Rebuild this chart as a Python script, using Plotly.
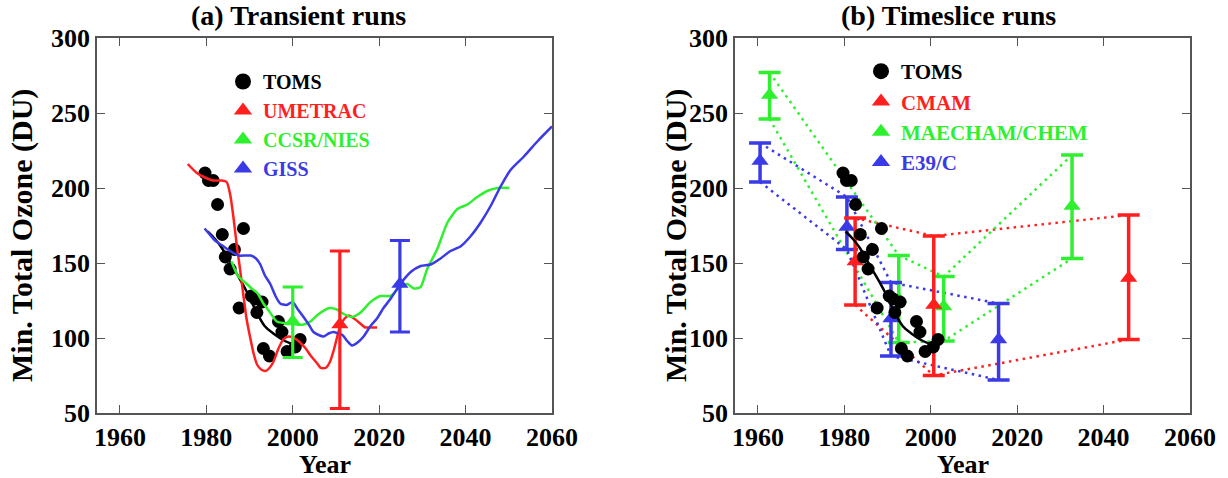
import plotly.graph_objects as go

FONT = '"Liberation Serif", "Times New Roman", Times, serif'
RED = "#ff1f1f"
GREEN = "#2ef02e"
BLUE = "#3a3ae6"
BLACK = "#000000"
FRAME = "#555555"

# ---------------- TOMS observations (both panels) ----------------
toms_year = [1979.7, 1980.5, 1981.6, 1982.6, 1983.7, 1984.4, 1985.5, 1986.5, 1987.6, 1988.6,
             1990.4, 1991.3, 1991.7, 1992.9, 1993.2, 1994.6, 1996.7, 1997.5, 1998.7, 2000.6, 2001.7]
toms_val = [210, 205, 205, 189, 169, 154, 146, 159, 120, 173,
            128, 126, 117, 124, 93, 88, 111, 104, 91, 94, 99]
toms_fit_year = [1980.3, 1982.0, 1983.6, 1985.0, 1986.6, 1988.2, 1989.7, 1991.5, 1993.5, 1995.5, 1998.2, 2001.0]
toms_fit_val = [171, 166, 160, 153, 145, 137, 129, 118, 108, 103, 98, 95]

# ---------------- (a) transient runs ----------------
umetrac_year = [1975.7, 1977.8, 1979.7, 1981.6, 1983.6, 1984.7, 1985.5, 1986.3, 1987.0, 1987.8,
                1988.6, 1989.3, 1990.1, 1991.0, 1991.8, 1992.7, 1993.7, 1994.6, 1995.5, 1996.7,
                1997.8, 1999.0, 2000.3, 2001.7, 2003.0, 2004.2, 2005.4, 2006.5, 2007.6, 2008.6,
                2009.5, 2010.3, 2011.0, 2012.0, 2013.0, 2014.2, 2015.5, 2016.8, 2017.5, 2019.5]
umetrac_val = [216, 210, 207, 205, 205, 204, 196, 180, 163, 146,
               128, 113, 101, 89, 82, 79, 78, 80, 84, 93,
               99, 101, 100, 97, 93, 88, 84, 80, 80, 84,
               92, 101, 108, 113, 115, 113, 110, 107, 107, 107]

ccsr_year = [1985.8, 1987.4, 1989.0, 1990.5, 1991.8, 1993.2, 1994.5, 1996.3, 1997.9, 1999.4,
             2001.0, 2002.5, 2004.1, 2006.0, 2008.5, 2010.2, 2011.8, 2013.7, 2015.7, 2018.0,
             2020.3, 2022.6, 2024.5, 2026.5, 2028.0, 2029.6, 2031.1, 2033.4, 2035.8, 2038.1,
             2040.4, 2042.7, 2045.0, 2047.4, 2050.1]
ccsr_val = [151, 141, 137, 133, 130, 123, 118, 111, 110, 110,
            109, 109, 111, 116, 120, 119, 116, 114, 117, 124,
            128, 128, 133, 136, 133, 134, 146, 159, 177, 186,
            189, 194, 198, 200, 200]

giss_year = [1979.6, 1980.5, 1982.0, 1983.5, 1985.5, 1987.5, 1989.0, 1990.3, 1991.5, 1992.5,
             1993.5, 1994.8, 1996.0, 1997.1, 1998.5, 2000.0, 2001.2, 2002.5, 2003.7, 2004.8,
             2006.0, 2007.1, 2008.3, 2009.4, 2010.5, 2011.5, 2012.6, 2013.7, 2015.0, 2016.4,
             2018.0, 2019.5, 2021.0, 2022.6, 2024.9, 2027.3, 2029.6, 2031.9, 2034.2, 2036.5,
             2038.8, 2041.2, 2043.5, 2045.8, 2048.1, 2050.4, 2053.5, 2056.6, 2060.0]
giss_val = [173, 170, 165, 162, 158, 155, 155, 155, 153, 149,
            142, 136, 128, 123, 122, 124, 119, 114, 109, 104,
            102, 101, 103, 104, 103, 102, 98, 95, 97, 101,
            108, 113, 120, 126, 136, 144, 148, 149, 153, 158,
            161, 168, 177, 188, 201, 212, 221, 231, 241]

transient_name = ["UMETRAC", "CCSR/NIES", "GISS"]
transient_bar_year = [2010.9, 2000.0, 2024.8]
transient_bar_mid = [109, 111, 136]
transient_bar_hi = [158, 134, 165]
transient_bar_lo = [53, 87, 104]

# ---------------- (b) timeslice runs ----------------
cmam_year = [1982.5, 2000.7, 2045.8]
cmam_mid = [151, 122, 140]
cmam_hi = [180, 168, 182]
cmam_lo = [122, 75, 99]

maecham_year = [1962.7, 1992.6, 2003.0, 2032.7]
maecham_mid = [262, 126, 121, 188]
maecham_hi = [277, 155, 141, 222]
maecham_lo = [246, 97, 98, 153]

e39_year = [1960.5, 1980.6, 1990.8, 2015.7]
e39_mid = [218, 174, 113, 99]
e39_hi = [230, 194, 137, 123]
e39_lo = [204, 159, 88, 72]

year_ticks = [1960, 1980, 2000, 2020, 2040, 2060]
ozone_ticks = [50, 100, 150, 200, 250, 300]

W, H = 1228, 478
ML, MR, MT, MB = 0, 0, 38, 65

fig = go.Figure()


def bar_trace(x, mid, hi, lo, color, xa, ya, cap=10, thick=3.2):
    return go.Scatter(
        x=x, y=mid, mode="markers", xaxis=xa, yaxis=ya, showlegend=False,
        marker=dict(symbol="triangle-up", size=15, color=color),
        error_y=dict(type="data", symmetric=False,
                     array=[h - m for h, m in zip(hi, mid)],
                     arrayminus=[m - l for m, l in zip(mid, lo)],
                     color=color, thickness=thick, width=cap),
        hoverinfo="skip")


# ----- panel (a) -----
fig.add_trace(go.Scatter(x=toms_year, y=toms_val, mode="markers", xaxis="x", yaxis="y",
                         marker=dict(color=BLACK, size=13), showlegend=False))
fig.add_trace(go.Scatter(x=toms_fit_year, y=toms_fit_val, mode="lines", xaxis="x", yaxis="y",
                         line=dict(color=BLACK, width=2.5, shape="spline"), showlegend=False))
for yr, vl, col in [(umetrac_year, umetrac_val, RED), (ccsr_year, ccsr_val, GREEN),
                    (giss_year, giss_val, BLUE)]:
    fig.add_trace(go.Scatter(x=yr, y=vl, mode="lines", xaxis="x", yaxis="y",
                             line=dict(color=col, width=2.5, shape="spline", smoothing=0.6),
                             showlegend=False))
for i, col in enumerate([RED, GREEN, BLUE]):
    fig.add_trace(bar_trace([transient_bar_year[i]], [transient_bar_mid[i]],
                            [transient_bar_hi[i]], [transient_bar_lo[i]], col, "x", "y"))

# ----- panel (b) -----
DOT = "2.5px,4.5px"
for yr, hi, lo, col in [(cmam_year, cmam_hi, cmam_lo, RED),
                        (maecham_year, maecham_hi, maecham_lo, GREEN),
                        (e39_year, e39_hi, e39_lo, BLUE)]:
    for env in (hi, lo):
        fig.add_trace(go.Scatter(x=yr, y=env, mode="lines", xaxis="x2", yaxis="y2",
                                 line=dict(color=col, width=2.5, dash=DOT), showlegend=False))
fig.add_trace(bar_trace(maecham_year, maecham_mid, maecham_hi, maecham_lo, GREEN, "x2", "y2", cap=11, thick=3.5))
fig.add_trace(bar_trace(e39_year, e39_mid, e39_hi, e39_lo, BLUE, "x2", "y2", cap=11, thick=3.5))
fig.add_trace(bar_trace(cmam_year, cmam_mid, cmam_hi, cmam_lo, RED, "x2", "y2", cap=11, thick=3.5))
fig.add_trace(go.Scatter(x=toms_year, y=toms_val, mode="markers", xaxis="x2", yaxis="y2",
                         marker=dict(color=BLACK, size=13), showlegend=False))
fig.add_trace(go.Scatter(x=toms_fit_year, y=toms_fit_val, mode="lines", xaxis="x2", yaxis="y2",
                         line=dict(color=BLACK, width=2.5, shape="spline"), showlegend=False))


# ----- legends (marker-only entries) -----
def leg(name, color, symbol, xa, ya, legend):
    return go.Scatter(x=[None], y=[None], mode="markers", xaxis=xa, yaxis=ya,
                      name=f"<span style='color:{color}'>{name}</span>",
                      marker=dict(symbol=symbol, size=16, color=color),
                      legend=legend, showlegend=True)


fig.add_trace(leg("TOMS", BLACK, "circle", "x", "y", "legend"))
for nm, col in zip(transient_name, [RED, GREEN, BLUE]):
    fig.add_trace(leg(nm, col, "triangle-up", "x", "y", "legend"))
fig.add_trace(leg("TOMS", BLACK, "circle", "x2", "y2", "legend2"))
for nm, col in zip(["CMAM", "MAECHAM/CHEM", "E39/C"], [RED, GREEN, BLUE]):
    fig.add_trace(leg(nm, col, "triangle-up", "x2", "y2", "legend2"))

tickfont = dict(family=FONT, size=26, color="black", weight="bold")
ax = dict(showline=True, linecolor=FRAME, linewidth=1.5, mirror="ticks", ticks="inside",
          ticklen=8, tickwidth=1.2, tickcolor=FRAME, showgrid=False, zeroline=False,
          tickfont=tickfont, automargin=False)


def px_x(p):
    return (p - ML) / (W - ML - MR)


def px_y(p):
    return (H - MB - p) / (H - MT - MB)


legfont = dict(family=FONT, size=20, color="black", weight="bold")
fig.update_layout(
    width=W, height=H, autosize=False, margin=dict(l=ML, r=MR, t=MT, b=MB, autoexpand=False),
    paper_bgcolor="white", plot_bgcolor="white",
    font=dict(family=FONT, color="black", weight="bold"),
    xaxis=dict(domain=[px_x(97), px_x(552)], range=[1954.7, 2060], tickvals=year_ticks, anchor="y", **ax),
    yaxis=dict(domain=[0, 1], range=[50, 300], tickvals=ozone_ticks, anchor="x", **ax),
    xaxis2=dict(domain=[px_x(735), px_x(1190)], range=[1954.7, 2060], tickvals=year_ticks, anchor="y2", **ax),
    yaxis2=dict(domain=[0, 1], range=[50, 300], tickvals=ozone_ticks, anchor="x2", **ax),
    legend=dict(x=px_x(223), y=px_y(62), xanchor="left", yanchor="top", bgcolor="rgba(0,0,0,0)",
                font=legfont, itemsizing="trace", tracegroupgap=0),
    legend2=dict(x=px_x(861), y=px_y(51), xanchor="left", yanchor="top", bgcolor="rgba(0,0,0,0)",
                 font=dict(legfont, size=21), itemsizing="trace", tracegroupgap=0),
    showlegend=True,
)

ann = []
for txt, cx in [("(a) Transient runs", 298), ("(b) Timeslice runs", 948)]:
    ann.append(dict(text=txt, x=px_x(cx), y=px_y(15), xref="paper", yref="paper",
                    xanchor="center", yanchor="middle", showarrow=False,
                    font=dict(family=FONT, size=28, color="black", weight="bold")))
for cx in [22, 676]:
    ann.append(dict(text="Min. Total Ozone (DU)", x=px_x(cx), y=px_y(236), xref="paper", yref="paper",
                    xanchor="center", yanchor="middle", showarrow=False, textangle=-90,
                    font=dict(family=FONT, size=30, color="black", weight="bold")))
for cx in [324.5, 962.5]:
    ann.append(dict(text="Year", x=px_x(cx), y=px_y(464), xref="paper", yref="paper",
                    xanchor="center", yanchor="middle", showarrow=False,
                    font=dict(family=FONT, size=26, color="black", weight="bold")))
fig.update_layout(annotations=ann)

fig.write_html(
    "out.html",
    config={"displayModeBar": False, "responsive": False},
    post_script=("document.documentElement.style.margin='0px';"
                 "document.body.style.margin='0px';"
                 "document.documentElement.style.overflow='hidden';"
                 "document.body.style.overflow='hidden';"),
)
